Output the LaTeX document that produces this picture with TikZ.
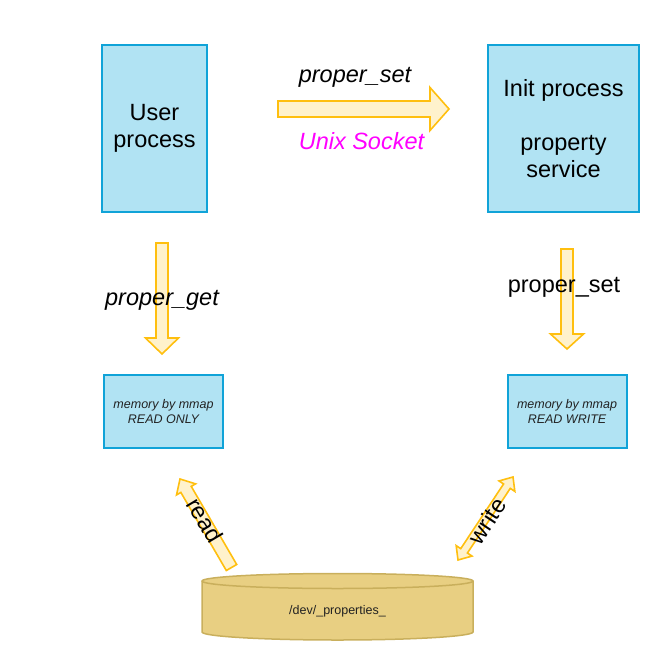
\documentclass[tikz,border=0pt]{standalone}
\usepackage{fontspec}
\setmainfont{Liberation Sans}
\usetikzlibrary{calc}
\definecolor{boxfill}{HTML}{B1E3F3}
\definecolor{boxline}{HTML}{10A3D8}
\definecolor{arrfill}{HTML}{FFF2CC}
\definecolor{arrline}{HTML}{FFBF0F}
\definecolor{cylfill}{HTML}{E8CF82}
\definecolor{cylline}{HTML}{C9AF5C}
\definecolor{sockmag}{HTML}{FF00FF}
\definecolor{memtext}{HTML}{222222}
\newcommand{\flexsingle}[5]{% tail, tip, shaft half width, head half width, head length
  \coordinate (fa-base) at ($(#2)!#5!(#1)$);
  \draw[flexarrow] ($(#1)!#3!90:(#2)$) -- ($(fa-base)!#3!-90:(#1)$) -- ($(fa-base)!#4!-90:(#1)$) -- (#2)
    -- ($(fa-base)!#4!90:(#1)$) -- ($(fa-base)!#3!90:(#1)$) -- ($(#1)!#3!-90:(#2)$) -- cycle;
}
\newcommand{\flexdouble}[5]{% end A, end B, shaft half width, head half width, head length
  \coordinate (fa-ba) at ($(#1)!#5!(#2)$);
  \coordinate (fa-bb) at ($(#2)!#5!(#1)$);
  \draw[flexarrow] (#1) -- ($(fa-ba)!#4!90:(#2)$) -- ($(fa-ba)!#3!90:(#2)$) -- ($(fa-bb)!#3!-90:(#1)$)
    -- ($(fa-bb)!#4!-90:(#1)$) -- (#2) -- ($(fa-bb)!#4!90:(#1)$) -- ($(fa-bb)!#3!90:(#1)$)
    -- ($(fa-ba)!#3!-90:(#2)$) -- ($(fa-ba)!#4!-90:(#2)$) -- cycle;
}
\tikzset{
  procbox/.style={draw=boxline, fill=boxfill, line width=2pt, inner sep=0pt, align=center,
    font=\fontsize{23.5}{27}\selectfont},
  membox/.style={draw=boxline, fill=boxfill, line width=2pt, inner sep=0pt, align=center,
    minimum width=119pt, minimum height=73pt, text=memtext, font=\fontsize{12.5}{15}\selectfont\itshape},
  flexarrow/.style={draw=arrline, fill=arrfill, line width=1.6pt, line join=miter},
  biglbl/.style={inner sep=0pt, font=\fontsize{23.5}{27}\selectfont},
  cyl/.style={draw=cylline, fill=cylfill, line width=1.5pt},
}
\begin{document}
\begin{tikzpicture}[x=1pt, y=-1pt]
\useasboundingbox (0,0) rectangle (660,660);
% process boxes
\node[procbox, minimum width=105pt, minimum height=167pt] (user) at (154.5,128.5) {User\\process};
\node[procbox, minimum width=151pt, minimum height=167pt] (init) at (563.5,128.5) {Init process\\[27pt]property\\service};
% memory boxes
\node[membox] (memro) at (163.5,411.5) {memory by mmap\\READ ONLY};
\node[membox] (memrw) at (567,411.5) {memory by mmap\\READ WRITE};
% cylinder
\draw[cyl] (202,581) -- (202,632) arc[start angle=180, end angle=360, x radius=135.5pt, y radius=8pt]
  -- (473,581) arc[start angle=0, end angle=180, x radius=135.5pt, y radius=7.5pt] -- cycle;
\draw[cylline, line width=1.5pt] (473,581) arc[start angle=0, end angle=-180, x radius=135.5pt, y radius=7.5pt];
\node[inner sep=0pt, font=\fontsize{12.5}{15}\selectfont, text=memtext] (dev) at (337.5,611) {/dev/\_properties\_};
% arrow end points
\coordinate (sockT) at (278,109);
\coordinate (sockH) at (449,109);
\coordinate (getT) at (162,243);
\coordinate (getH) at (162,354);
\coordinate (setT) at (567,249);
\coordinate (setH) at (567,349);
\coordinate (readT) at (231.5,567.5);
\coordinate (readH) at (180,479);
\coordinate (writeA) at (513,477);
\coordinate (writeB) at (458,560);
% arrows
\flexsingle{sockT}{sockH}{8pt}{21.5pt}{19pt}
\flexsingle{getT}{getH}{6pt}{16.5pt}{16pt}
\flexsingle{setT}{setH}{6pt}{16.5pt}{15pt}
\flexsingle{readT}{readH}{6pt}{11pt}{12pt}
\flexdouble{writeA}{writeB}{4pt}{9.5pt}{11pt}
% labels
\node[biglbl, anchor=base] (lblset) at (355,83) {\itshape proper\_set};
\node[biglbl, anchor=base, text=sockmag] (lblsock) at (361.5,149.3) {\itshape Unix Socket};
\node[biglbl, anchor=base] (lblget) at (162,305) {\itshape proper\_get};
\node[biglbl, anchor=base] (lblset2) at (564,292) {proper\_set};
\node[biglbl, rotate=-59.4] (lblread) at (205,520) {read};
\node[biglbl, rotate=56.5] (lblwrite) at (487,521) {write};
\end{tikzpicture}
\end{document}
